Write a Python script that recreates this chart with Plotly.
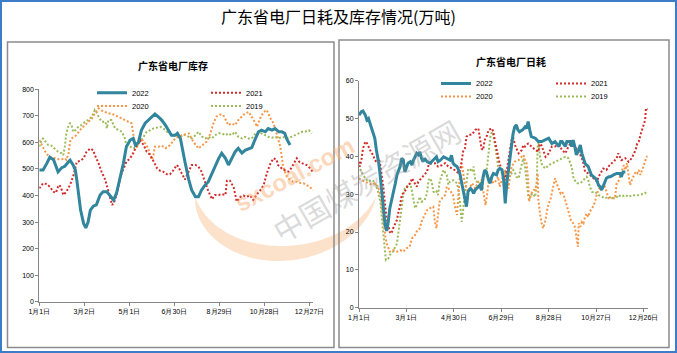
import numpy as np
import plotly.graph_objects as go

W, H = 677, 353

title_main = "广东省电厂日耗及库存情况(万吨)"
title_inv = "广东省电厂库存"
title_cons = "广东省电厂日耗"
years = ["2022", "2021", "2020", "2019"]
colors = {"2022": "#31859C", "2021": "#D42A2A", "2020": "#F79646", "2019": "#9BBB59"}

inv_ticks = [0, 60, 120, 180, 240, 300, 360]
inv_ticktext = ["1月1日", "3月2日", "5月1日", "6月30日", "8月29日", "10月28日", "12月27日"]
cons_ticks = [0, 60, 120, 180, 240, 300, 360]
cons_ticktext = ["1月1日", "3月1日", "4月30日", "6月29日", "8月28日", "10月27日", "12月26日"]

# ---- inventory (万吨), (day of year, value) ----
inv_2022 = [(0,496),(5,496),(10,521),(14,544),(19,535),(23,502),(25,489),(30,505),(34,510),(39,527),
            (41,533),(45,515),(48,496),(50,458),(52,408),(55,345),(59,295),(62,278),(65,300),(68,345),
            (72,360),(76,365),(81,402),(85,414),(90,414),(94,402),(99,383),(103,410),(108,471),(112,521),
            (116,584),(121,609),(125,615),(128,590),(132,600),(136,646),(141,672),(145,684),(150,695),(154,707),
            (159,695),(163,684),(168,665),(172,646),(176,627),(181,627),(184,634),(188,615),(190,584),(194,527),
            (199,461),(203,420),(208,395),(212,395),(216,420),(221,440),(225,451),(230,483),(234,509),(239,540),
            (243,559),(248,540),(252,515),(256,535),(261,565),(265,578),(270,560),(274,570),(279,575),(283,580),
            (288,615),(292,640),(296,646),(301,640),(305,652),(310,646),(314,652),(319,640),(323,640),(327,634),
            (330,610),(334,590)]
inv_2021 = [(0,427),(5,446),(10,443),(14,433),(19,414),(22,410),(25,433),(27,440),(30,420),(32,402),
            (36,414),(41,440),(45,471),(48,502),(50,527),(54,530),(59,540),(63,565),(68,577),(72,570),
            (74,552),(79,521),(83,489),(88,458),(92,420),(97,364),(100,377),(103,402),(108,471),(112,502),
            (116,527),(121,540),(125,559),(130,590),(134,609),(139,590),(143,565),(148,552),(152,527),(157,502),
            (161,493),(165,490),(170,480),(174,480),(179,496),(183,515),(185,509),(188,490),(192,471),(194,460),
            (199,489),(203,515),(208,515),(212,509),(216,490),(221,449),(225,418),(230,386),(234,402),(239,402),
            (243,405),(248,402),(250,456),(254,456),(259,430),(263,377),(268,395),(272,400),(276,395),(281,400),
            (285,383),(290,405),(294,418),(299,440),(303,483),(308,521),(312,540),(316,535),(318,515),(323,502),
            (327,495),(332,490),(334,496),(338,515),(343,540),(347,525),(352,520),(356,515),(361,502),(364,490)]
inv_2020 = [(0,609),(3,590),(8,565),(12,549),(16,543),(21,540),(25,537),(30,537),(34,540),(36,534),
            (39,559),(41,603),(43,615),(48,624),(52,640),(56,652),(61,665),(65,678),(70,690),(74,709),
            (79,728),(83,720),(88,715),(92,709),(96,709),(101,703),(105,697),(110,690),(114,684),(119,678),
            (123,672),(125,634),(128,590),(130,584),(132,596),(136,615),(141,596),(145,578),(148,552),(150,534),
            (152,552),(154,584),(159,584),(163,588),(168,578),(172,584),(176,596),(181,615),(185,621),(190,627),
            (199,634),(205,603),(212,577),(217,590),(223,603),(228,634),(232,672),(236,697),(241,705),(245,703),
            (248,684),(252,665),(256,672),(261,665),(265,684),(270,697),(274,709),(279,715),(283,697),(288,672),
            (290,659),(294,690),(299,715),(303,722),(308,690),(312,672),(316,634),(318,615),(321,584),(323,546),
            (325,508),(328,483),(330,471),(334,458),(338,452),(343,452),(347,448),(352,446),(356,440),(360,433),
            (365,420)]
inv_2019 = [(0,584),(3,609),(5,615),(8,603),(12,590),(16,588),(21,577),(25,565),(30,559),(32,552),
            (34,584),(36,634),(39,665),(41,672),(43,665),(45,640),(48,646),(52,659),(56,665),(61,678),
            (65,684),(70,697),(74,722),(76,715),(79,697),(83,678),(88,678),(90,653),(92,684),(96,684),
            (101,653),(105,646),(110,640),(114,615),(116,590),(121,584),(125,577),(130,584),(134,603),(139,621),
            (143,640),(148,646),(152,653),(156,655),(161,659),(165,653),(170,640),(174,634),(179,627),(183,620),
            (188,620),(192,630),(199,621),(203,615),(208,627),(212,640),(217,621),(221,615),(225,621),(230,615),
            (234,627),(239,634),(243,634),(248,627),(252,634),(256,627),(261,640),(265,621),(270,615),(274,621),
            (279,615),(283,615),(288,634),(292,640),(296,634),(301,627),(305,621),(310,618),(314,621),(319,615),
            (323,621),(328,618),(332,615),(336,621),(341,627),(345,634),(350,640),(354,640),(359,646),(363,634)]

# ---- daily consumption (万吨), (day of year, value) ----
cons_2022 = [(0,50.9),(3,51.8),(5,52),(8,50.9),(10,49.6),(12,50),(14,48.7),(16,47.4),(18,46),(20,44.8),
             (22,41.7),(25,38.2),(27,34.6),(29,30.7),(31,25.8),(33,21.9),(35,20.3),(37,22.7),(39,26.3),(41,28),
             (43,29.8),(46,32.9),(48,35.1),(50,36.4),(52,37.3),(54,39.5),(56,39.1),(58,35.9),(60,37.3),(62,38.2),
             (65,38.6),(67,37.7),(69,39),(71,40),(73,40.8),(75,40.4),(77,41.2),(79,39.5),(81,38.6),(83,39.5),
             (86,38.6),(90,38.2),(94,39),(98,39.9),(100,38.6),(103,39),(107,39.9),(111,39.5),(115,39),(117,40.3),
             (119,38.2),(121,37.7),(124,37.3),(126,36.4),(128,35.1),(130,32.9),(132,30.7),(134,28.9),(136,26.7),(138,30.7),
             (141,31.5),(143,31.1),(145,30.2),(147,31.1),(149,31.5),(153,32.4),(155,31),(157,34.6),(159,36.4),(161,36),
             (164,33.7),(166,32.9),(168,34.6),(170,35.5),(174,35.1),(176,36.4),(178,36.8),(181,36.4),(183,33.7),(185,27.6),
             (187,32.9),(189,36.4),(191,40.4),(193,43.4),(195,46.1),(197,47.8),(199,48.3),(201,47),(203,46.5),(207,47),
             (210,47.8),(212,47.4),(214,49.2),(216,47),(218,45.2),(223,44.8),(227,43.9),(231,43.9),(236,44.3),(240,44.8),
             (244,43.4),(248,43.9),(253,42.6),(255,43.9),(257,43.9),(261,42.6),(263,43.9),(267,43.9),(269,42.6),(271,44.3),
             (273,42.6),(275,40.4),(277,41.2),(280,43),(282,40.8),(284,39.5),(286,38.1),(290,37.3),(292,36),(294,35.1),
             (299,34.2),(301,33.7),(303,32.4),(305,32),(307,31.1),(309,32),(311,33.3),(313,34.2),(316,34.6),(318,34.6),
             (322,35.1),(326,35.5),(330,35.5),(332,34.6),(334,35.9),(337,35.9)]
cons_2021 = [(0,38.6),(1,37.3),(3,39),(5,42.1),(8,43.9),(10,43.5),(12,42.6),(14,41.7),(16,40.8),(18,40.4),
             (20,39),(22,38.6),(25,39.5),(27,37.7),(29,35.1),(31,31.5),(33,27.1),(35,23.6),(39,20),(41,19.6),
             (43,20.9),(46,22.3),(48,23.2),(50,25.4),(52,27.1),(54,29.8),(58,30.7),(62,32.4),(65,32.9),(67,34.2),
             (71,32.9),(73,32),(75,33.3),(79,34.2),(83,35.1),(86,35.9),(88,37.7),(92,38.2),(96,38.2),(100,37.3),
             (105,37.7),(109,38.2),(113,37.3),(117,36.8),(121,36.4),(126,35.5),(128,36.4),(132,41.6),(134,42.1),(136,45.2),
             (138,45.6),(143,45.8),(147,47),(151,47.4),(153,44.8),(155,42),(157,41.7),(159,44.3),(162,45.5),(164,47),
             (168,47.4),(170,46.5),(172,44),(176,40),(178,38),(181,36.4),(185,33.7),(189,39),(193,44.3),(195,45),
             (198,42.6),(202,40.8),(206,41.7),(208,43),(210,42.6),(214,43.4),(218,42.6),(223,41.7),(227,41.2),(229,43.9),
             (233,41.7),(236,39.9),(240,40.8),(244,42.6),(248,42.6),(253,43),(257,41.7),(261,40.8),(265,42.6),(269,43.9),
             (273,42.6),(278,41.2),(282,39.5),(284,38.1),(286,35.9),(290,35.5),(295,34.6),(299,33.7),(301,33.3),(303,34.6),
             (307,35.9),(309,36.8),(313,36.4),(317,37.7),(322,38.6),(326,39.5),(328,40.8),(332,39),(337,39.5),(341,38.6),
             (345,39.5),(350,41.7),(352,43.4),(354,43.9),(356,45.6),(358,47),(360,48),(362,49.6),(363,52.7),(365,52.4)]
cons_2020 = [(0,34.2),(3,33.7),(8,33.3),(12,32.9),(16,32.5),(20,32.9),(24,32),(27,29.8),(29,26.3),(31,21.9),
             (33,19.2),(35,17),(37,15.7),(39,14.8),(43,15.2),(48,14.8),(52,15.2),(56,14.8),(60,15.7),(64,16.1),
             (67,18.3),(71,19.2),(73,20.1),(77,21),(79,22.7),(81,23.6),(86,25.8),(90,26.3),(94,26.7),(96,22.7),
             (98,21),(100,24.5),(102,28),(105,28.9),(109,29.8),(111,32),(115,31.1),(119,29.8),(121,27.1),(124,24.5),
             (126,30.7),(128,36),(130,38.2),(132,35.1),(134,32.5),(138,30.7),(143,32.9),(147,31.5),(151,33.3),(155,33.7),
             (157,30.7),(160,27.1),(162,29.8),(164,33.3),(166,34.6),(170,32.9),(174,33.7),(176,34.6),(178,32),(181,33.7),
             (185,36.4),(187,33.7),(189,31.5),(191,34.6),(193,37.3),(197,38.6),(202,39),(206,40),(208,40.4),(210,39),
             (212,38.2),(214,33.7),(215,28),(218,30.2),(221,31.1),(223,31.1),(225,32.9),(226,35.5),(227,28.4),(229,24.9),
             (231,22.3),(233,21),(236,23.2),(238,25.8),(240,27.6),(242,28.4),(244,30.2),(246,32),(248,34.2),(250,32.9),
             (253,31.1),(255,30.2),(257,30.6),(259,29.8),(261,28.4),(263,26.7),(266,24.9),(268,23.2),(270,22.7),(271,22.3),
             (273,21.4),(275,18.8),(277,16.1),(278,22.3),(280,21.4),(282,22.7),(284,22.3),(286,24),(288,24.9),(290,24),
             (292,25.4),(295,26.3),(297,27.1),(299,28.4),(301,30.2),(303,31.1),(305,32),(307,31.5),(311,32),(316,28.9),
             (320,28.9),(324,29.3),(326,32.9),(328,33.3),(332,35.5),(335,37.7),(337,36.4),(339,38.2),(341,35.1),(343,32.4),
             (345,33.7),(347,34.6),(350,35.9),(352,35.5),(354,36.4),(356,35.1),(358,36.4),(360,37.7),(362,38.6),(364,39.9),
             (365,39.9)]
cons_2019 = [(0,37.7),(3,35.9),(8,34.2),(12,33.3),(16,33.7),(20,33.3),(24,30.7),(27,28),(29,23.6),(31,19.2),
             (33,14.8),(34,12.6),(37,13),(39,13.9),(43,14.8),(48,17),(50,20.1),(52,23.6),(54,27.1),(56,29.8),
             (58,31.5),(62,32.4),(65,32.9),(67,30.7),(69,28),(71,26.3),(73,27.1),(75,28),(77,29.3),(79,28),
             (83,28.4),(86,30.2),(88,33.7),(90,34.2),(92,33.3),(94,30.7),(96,30.3),(98,30.7),(100,29.8),(102,33.3),
             (105,35.5),(107,36.4),(111,35.1),(113,32.5),(115,33.3),(119,33.7),(124,32.9),(126,30.7),(128,27.1),(130,22.7),
             (132,26.3),(134,30.7),(136,32.9),(138,36.4),(140,36.8),(143,35.9),(145,37.3),(147,33.7),(149,33.3),(153,32.9),
             (157,33.7),(160,35.5),(162,37),(164,41),(166,45),(168,46.5),(170,45.5),(172,43),(174,40.4),(176,37.3),
             (181,35.5),(185,35.9),(189,35.1),(193,35.5),(195,36.4),(197,35.9),(199,34.6),(202,34.2),(204,36.4),(206,38.1),
             (208,39.5),(210,37.3),(212,33.7),(214,29.8),(216,28.9),(219,30.2),(223,29.3),(225,33.7),(226,42.6),(227,43.9),
             (229,39.9),(231,38.1),(233,37.3),(236,36.8),(240,37.7),(244,38.1),(248,38.6),(252,39),(257,39.5),(261,39.9),
             (265,39.5),(267,38.1),(269,37.3),(271,34.6),(274,33.3),(276,32.9),(280,32.9),(282,33.3),(286,34.2),(288,34.6),
             (290,33.7),(292,32),(295,30.6),(299,30.6),(303,29.8),(307,29.3),(311,28.9),(316,29.3),(320,28.9),(325,28.9),
             (328,29.8),(332,29.3),(337,29.8),(341,29.3),(346,29.8),(350,29.6),(354,29.8),(358,29.8),(362,30.2),(364,31.1)]

inv_series = {"2022": inv_2022, "2021": inv_2021, "2020": inv_2020, "2019": inv_2019}
cons_series = {"2022": cons_2022, "2021": cons_2021, "2020": cons_2020, "2019": cons_2019}


def px_x(x):
    return x / W


def px_y(y):
    return 1 - y / H


fig = go.Figure()

# one single-entry legend per trace: (legend id, x px, y px)
legend_pos = {
    ("x", "2022"): ("legend", 92, 92.7), ("x", "2021"): ("legend2", 206, 92.7),
    ("x", "2020"): ("legend3", 92, 106), ("x", "2019"): ("legend4", 206, 106),
    ("x2", "2022"): ("legend5", 436, 83.5), ("x2", "2021"): ("legend6", 551, 83.5),
    ("x2", "2020"): ("legend7", 436, 96.5), ("x2", "2019"): ("legend8", 551, 96.5),
}

draw_order = ["2019", "2020", "2021", "2022"]

for xa, ya, series in (("x", "y", inv_series), ("x2", "y2", cons_series)):
    for yr in draw_order:
        pts = series[yr]
        d = [p[0] for p in pts]
        v = [p[1] for p in pts]
        if yr == "2022":
            line = dict(color=colors[yr], width=3)
        else:
            line = dict(color=colors[yr], width=2, dash="2px,2px")
        fig.add_trace(go.Scatter(
            x=d, y=v, mode="lines", name=yr, line=line,
            xaxis=xa, yaxis=ya, legend=legend_pos[(xa, yr)][0],
            showlegend=True, hoverinfo="skip",
        ))

axis_common = dict(
    showline=True, linecolor="#868686", linewidth=1, ticks="outside", ticklen=3,
    tickcolor="#868686", tickwidth=1, showgrid=False, zeroline=False,
    tickfont=dict(family="Liberation Sans, Arial", size=7, color="#000000"),
    fixedrange=True,
)

fig.update_layout(
    width=W, height=H, margin=dict(l=0, r=0, t=0, b=0, autoexpand=False),
    paper_bgcolor="white", plot_bgcolor="rgba(0,0,0,0)",
    xaxis=dict(domain=[px_x(39.3), px_x(313.3)], range=[0, 365], anchor="y",
               tickvals=inv_ticks, ticktext=inv_ticktext, **axis_common),
    yaxis=dict(domain=[px_y(301.7), px_y(89.3)], range=[0, 800], dtick=100, anchor="x",
               **axis_common),
    xaxis2=dict(domain=[px_x(359), px_x(648.3)], range=[0, 366], anchor="y2",
                tickvals=cons_ticks, ticktext=cons_ticktext, **axis_common),
    yaxis2=dict(domain=[px_y(307.7), px_y(80.7)], range=[0, 60], dtick=10, anchor="x2",
                **axis_common),
)

leg_common = dict(orientation="h", bgcolor="rgba(0,0,0,0)", borderwidth=0,
                  font=dict(family="Liberation Sans, Arial", size=7.5, color="#000000"),
                  itemwidth=30, xanchor="left", yanchor="middle")
legends = {}
for (xa, yr), (lid, lx, ly) in legend_pos.items():
    legends[lid] = dict(x=px_x(lx), y=px_y(ly), **leg_common)
fig.update_layout(**legends)

# ---- watermark (crescent + texts) ----
cx, cy, a, b, rot = 287, 183, 93, 70, np.deg2rad(-8)
t0, t1 = np.deg2rad(178), np.deg2rad(22)
t = np.linspace(t0, t1, 90)
s = (t0 - t) / (t0 - t1)
prof = np.sin(np.pi * s) ** 0.8 * (1.25 - 0.5 * s)
wband = 15 * prof


def ell(ra, rb):
    ex = ra * np.cos(t)
    ey = rb * np.sin(t)
    X = cx + ex * np.cos(rot) - ey * np.sin(rot)
    Y = cy + ex * np.sin(rot) + ey * np.cos(rot)
    return X, Y


ox, oy = ell(a + wband / 2, b + wband / 2)
ix, iy = ell(a - wband / 2, b - wband / 2)
pts = list(zip(ox, oy)) + list(zip(ix[::-1], iy[::-1]))
path = "M " + " L ".join(f"{px_x(x):.5f},{px_y(y):.5f}" for x, y in pts) + " Z"

shapes = [
    dict(type="path", xref="paper", yref="paper", path=path,
         fillcolor="rgba(250,190,140,0.45)", line=dict(width=0), layer="below"),
    # panel frames
    dict(type="rect", xref="paper", yref="paper", x0=px_x(7.5), x1=px_x(334), y0=px_y(347.5), y1=px_y(42),
         line=dict(color="#8c8c8c", width=1.5), layer="below"),
    dict(type="rect", xref="paper", yref="paper", x0=px_x(339), x1=px_x(669), y0=px_y(347.5), y1=px_y(40),
         line=dict(color="#8c8c8c", width=1.5), layer="below"),
    # outer border
    dict(type="rect", xref="paper", yref="paper", x0=px_x(1), x1=px_x(676), y0=px_y(352), y1=px_y(1),
         line=dict(color="#3d7cc9", width=2), layer="below"),
]

annotations = [
    dict(text=title_main, x=px_x(338.5), y=px_y(16), xref="paper", yref="paper", showarrow=False,
         font=dict(family="Noto Sans CJK SC", size=16, color="#000000"), xanchor="center", yanchor="middle"),
    dict(text="<b>" + title_inv + "</b>", x=px_x(172.5), y=px_y(66), xref="paper", yref="paper",
         showarrow=False, font=dict(family="Noto Sans CJK SC", size=10, color="#000000"),
         xanchor="center", yanchor="middle"),
    dict(text="<b>" + title_cons + "</b>", x=px_x(511), y=px_y(61.5), xref="paper", yref="paper",
         showarrow=False, font=dict(family="Noto Sans CJK SC", size=10, color="#000000"),
         xanchor="center", yanchor="middle"),
    dict(text="<b>sxcoal.com</b>", x=px_x(294), y=px_y(174), xref="paper", yref="paper", showarrow=False,
         textangle=-28, font=dict(family="Liberation Sans, Arial", size=24, color="rgba(248,175,120,0.5)"),
         xanchor="center", yanchor="middle"),
    dict(text="中国煤炭资源网", x=px_x(366), y=px_y(180), xref="paper", yref="paper", showarrow=False,
         textangle=-30, font=dict(family="Noto Sans CJK SC", size=30, color="rgba(150,150,150,0.35)"),
         xanchor="center", yanchor="middle"),
]

fig.update_layout(shapes=shapes, annotations=annotations)

fig.write_html("out.html")
